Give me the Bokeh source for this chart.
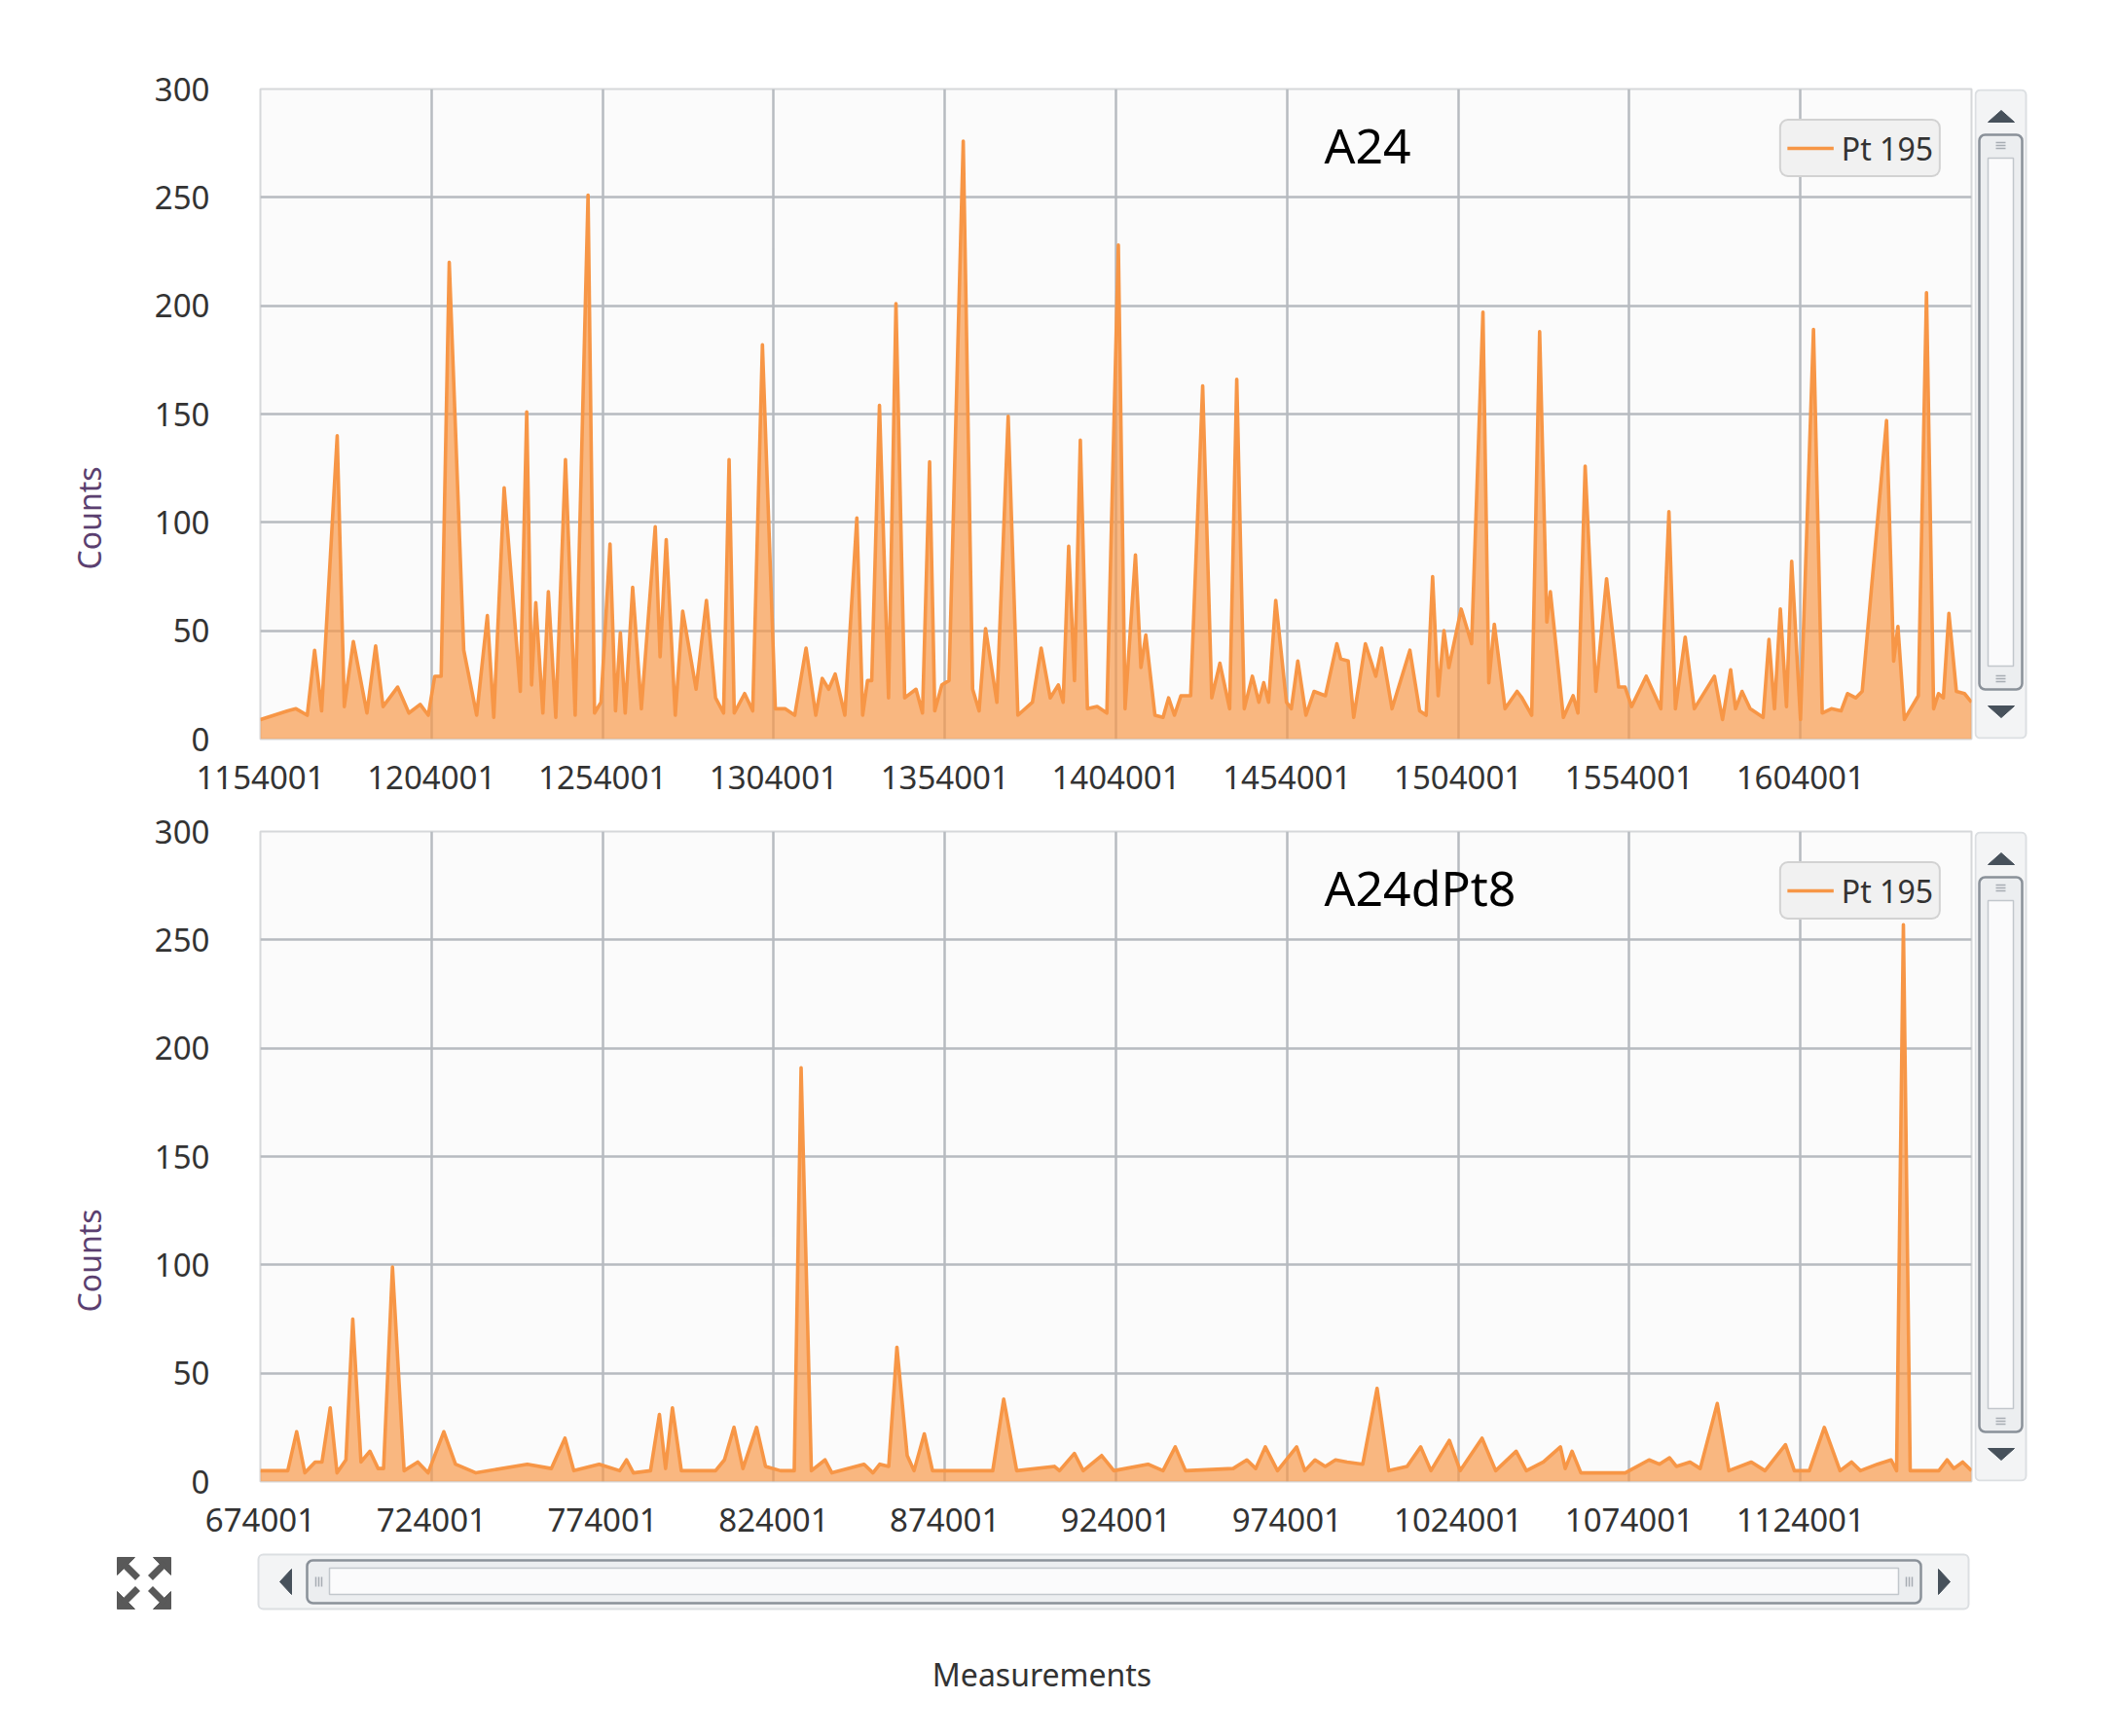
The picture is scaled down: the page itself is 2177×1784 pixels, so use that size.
import numpy as np
from bokeh.plotting import figure
from bokeh.layouts import column, row
from bokeh.models import Range1d, Label, Legend, LegendItem, FixedTicker, Quad
from bokeh.embed import file_html
from bokeh.resources import INLINE
from bokeh.core.properties import value

# ---------------- data ----------------
series_name = "Pt 195"
y_label = "Counts"
x_label = "Measurements"
titles = ["A24", "A24dPt8"]

top_x = [1154001, 1158000, 1162000, 1164400, 1167700, 1169850, 1171900, 1176450, 1178530, 1181170,
         1185140, 1187680, 1189850, 1194100, 1197400, 1200700, 1203060, 1204950, 1206830, 1209190,
         1213430, 1217200, 1220320, 1222200, 1225230, 1229950, 1231830, 1233250, 1234470, 1236550,
         1238150, 1240320, 1243150, 1245980, 1249750, 1251640, 1253530, 1256170, 1257770, 1259190,
         1260600, 1262780, 1265330, 1269380, 1270800, 1272590, 1275230, 1277400, 1281320, 1284340,
         1287000, 1289350, 1290960, 1292470, 1295500, 1297860, 1300700, 1304470, 1307300, 1310140,
         1313450, 1316290, 1318180, 1320070, 1321960, 1324790, 1328290, 1329990, 1331400, 1332640,
         1334900, 1337550, 1339720, 1342270, 1345580, 1347470, 1349550, 1351060, 1353140, 1355220,
         1359380, 1362120, 1364010, 1365900, 1369210, 1372510, 1375350, 1379600, 1382150, 1384800,
         1387160, 1388580, 1390190, 1391890, 1393590, 1395670, 1398510, 1401340, 1404700, 1406660,
         1409700, 1411300, 1412730, 1415390, 1417760, 1419380, 1421090, 1422980, 1425830, 1429340,
         1432000, 1434370, 1437220, 1439300, 1441490, 1443860, 1445760, 1447180, 1448600, 1450690,
         1453820, 1455250, 1457140, 1459520, 1461890, 1465210, 1468540, 1469680, 1471860, 1473470,
         1476890, 1479920, 1481630, 1484670, 1489890, 1492740, 1494640, 1496530, 1498150, 1499850,
         1501270, 1504880, 1507920, 1511240, 1512950, 1514560, 1517690, 1521210, 1522630, 1525480,
         1527800, 1529900, 1530940, 1534740, 1537580, 1539000, 1541100, 1544230, 1547360, 1550870,
         1552770, 1554670, 1558940, 1563210, 1565580, 1567480, 1570330, 1572990, 1578870, 1581240,
         1583610, 1585040, 1586930, 1589310, 1593100, 1594810, 1596420, 1598130, 1599930, 1601450,
         1604020, 1607820, 1610370, 1613030, 1615880, 1617780, 1620150, 1622050, 1629170, 1631250,
         1632490, 1634380, 1638460, 1640840, 1642920, 1644350, 1645770, 1647390, 1649570, 1651940,
         1654001]
top_y = [9, 11, 13, 14, 11, 41, 13, 140, 15, 45,
         12, 43, 15, 24, 12, 16, 11, 29, 29, 220,
         41, 11, 57, 10, 116, 22, 151, 25, 63, 12,
         68, 10, 129, 11, 251, 12, 17, 90, 13, 49,
         12, 70, 14, 98, 38, 92, 11, 59, 23, 64,
         19, 12, 129, 12, 21, 13, 182, 14, 14, 11,
         42, 11, 28, 23, 30, 11, 102, 11, 27, 27,
         154, 19, 201, 19, 23, 12, 128, 13, 25, 27,
         276, 23, 13, 51, 17, 149, 11, 17, 42, 19,
         25, 17, 89, 27, 138, 14, 15, 12, 228, 14,
         85, 33, 48, 11, 10, 19, 11, 20, 20, 163,
         19, 35, 14, 166, 14, 29, 17, 26, 17, 64,
         17, 14, 36, 11, 22, 20, 44, 37, 36, 10,
         44, 29, 42, 14, 41, 13, 11, 75, 20, 50,
         33, 60, 44, 197, 26, 53, 14, 22, 19, 11,
         188, 54, 68, 10, 20, 12, 126, 22, 74, 24,
         24, 15, 29, 14, 105, 14, 47, 14, 29, 9,
         32, 14, 22, 14, 10, 46, 14, 60, 15, 82,
         9, 189, 12, 14, 13, 21, 19, 22, 147, 36,
         52, 9, 20, 206, 14, 21, 19, 58, 22, 21,
         17]

bot_x = [674001, 682000, 684600, 687000, 690000, 692000, 694400, 696400, 699000, 701000,
         703400, 706000, 708400, 710000, 712600, 716000, 720000, 723000, 727600, 731000,
         737000, 752000, 759000, 763000, 765600, 773000, 779000, 781000, 783000, 788000,
         790600, 792400, 794400, 797000, 807000, 809600, 812400, 815000, 819000, 821600,
         826000, 830000, 832000, 835000, 839000, 841000, 850400, 853000, 855000, 857600,
         860000, 863000, 865000, 868000, 870400, 888000, 891200, 895000, 906000, 907500,
         911850, 914440, 919820, 923400, 933360, 937750, 941330, 944320, 958260, 962250,
         964840, 967630, 971210, 976790, 979180, 982170, 985160, 988150, 991530, 996120,
         1000300, 1003700, 1009060, 1013050, 1016040, 1021420, 1024600, 1030970, 1034960, 1040940,
         1043920, 1048900, 1053880, 1055280, 1057270, 1059860, 1072810, 1079780, 1082770, 1085760,
         1087750, 1091740, 1094720, 1099700, 1103090, 1109660, 1113650, 1119630, 1122220, 1126610,
         1130990, 1135570, 1138950, 1141540, 1146520, 1150500, 1152100, 1154090, 1156080, 1164450,
         1166840, 1168830, 1171420, 1174001]
bot_y = [5, 5, 23, 4, 9, 9, 34, 4, 10, 75,
         9, 14, 6, 6, 99, 5, 9, 4, 23, 8,
         4, 8, 6, 20, 5, 8, 5, 10, 4, 5,
         31, 6, 34, 5, 5, 10, 25, 6, 25, 7,
         5, 5, 191, 5, 10, 4, 8, 4, 8, 7,
         62, 12, 5, 22, 5, 5, 38, 5, 7, 5,
         13, 5, 12, 5, 8, 5, 16, 5, 6, 10,
         6, 16, 5, 16, 5, 10, 7, 10, 9, 8,
         43, 5, 7, 16, 5, 19, 5, 20, 5, 14,
         5, 9, 16, 6, 14, 4, 4, 10, 8, 11,
         7, 9, 6, 36, 5, 9, 5, 17, 5, 5,
         25, 5, 9, 5, 8, 10, 5, 257, 5, 5,
         10, 6, 9, 5]

top_ticks = [1154001, 1204001, 1254001, 1304001, 1354001, 1404001, 1454001, 1504001, 1554001, 1604001]
top_tick_labels = ["1154001", "1204001", "1254001", "1304001", "1354001",
                   "1404001", "1454001", "1504001", "1554001", "1604001"]
bot_ticks = [674001, 724001, 774001, 824001, 874001, 924001, 974001, 1024001, 1074001, 1124001]
bot_tick_labels = ["674001", "724001", "774001", "824001", "874001",
                   "924001", "974001", "1024001", "1074001", "1124001"]
y_ticks = [0, 50, 100, 150, 200, 250, 300]
x_span = 500000
y_max = 300

# ---------------- style ----------------
FONT = "Noto Sans"
ORANGE = "#f79646"
GRID = "#b7bbc0"
TICK_COLOR = "#333333"
FRAME_W = 1758
FRAME_H = 668
LABEL_W = 138
CHART_W = 1890
LEFT = 129
HAS_QUAD_RADIUS = "border_radius" in Quad.properties()
HAS_LEGEND_RADIUS = "border_radius" in Legend.properties()


def rounded(renderer, r):
    if HAS_QUAD_RADIUS:
        renderer.glyph.border_radius = r


def label_panel(y_range, min_top, min_bottom):
    lp = figure(width=LABEL_W, height=min_top + FRAME_H + min_bottom, x_range=Range1d(0, LABEL_W),
                y_range=y_range, output_backend="svg", toolbar_location=None,
                min_border_left=0, min_border_right=0, min_border_top=min_top,
                min_border_bottom=min_bottom, x_axis_type=None, y_axis_type=None)
    lp.outline_line_color = None
    lp.background_fill_color = "white"
    lp.border_fill_color = "white"
    lp.text(x=[91], y=[102], text=[y_label], angle=np.pi / 2, text_align="center",
            text_baseline="middle", text_font=value(FONT), text_font_size="32px",
            text_color="#5b3f70")
    return lp


def chart(xs, ys, ticks, tick_labels, title, min_top, min_bottom):
    x0 = ticks[0]
    h = min_top + FRAME_H + min_bottom
    p = figure(width=CHART_W, height=h, x_range=Range1d(x0, x0 + x_span), y_range=Range1d(0, y_max),
               output_backend="svg", toolbar_location=None,
               min_border_left=LEFT, min_border_right=CHART_W - LEFT - FRAME_W,
               min_border_top=min_top, min_border_bottom=min_bottom)
    p.background_fill_color = "#fbfbfb"
    p.border_fill_color = "white"
    p.outline_line_color = "#d6d8da"
    p.outline_line_width = 2

    p.xaxis.ticker = FixedTicker(ticks=ticks)
    p.xaxis.major_label_overrides = {t: l for t, l in zip(ticks, tick_labels)}
    p.yaxis.ticker = FixedTicker(ticks=y_ticks)
    for ax in (p.xaxis, p.yaxis):
        ax.axis_line_color = None
        ax.major_tick_line_color = None
        ax.minor_tick_line_color = None
        ax.major_label_text_font = FONT
        ax.major_label_text_font_size = "33px"
        ax.major_label_text_color = TICK_COLOR
    p.xaxis.major_label_standoff = 21
    p.yaxis.major_label_standoff = 46

    p.xgrid.ticker = FixedTicker(ticks=ticks)
    p.ygrid.ticker = FixedTicker(ticks=y_ticks)
    p.grid.grid_line_color = GRID
    p.grid.grid_line_width = 2.5

    p.varea(x=xs, y1=[0] * len(xs), y2=ys, fill_color=ORANGE, fill_alpha=0.68)
    ln = p.line(x=xs, y=ys, line_color=ORANGE, line_width=3.6, line_join="round")

    legend = Legend(items=[LegendItem(label=series_name, renderers=[ln])], location="top_right",
                    margin=31, padding=6, spacing=0, glyph_width=48, glyph_height=44,
                    label_height=44, label_standoff=8,
                    label_text_font=FONT, label_text_font_size="32px", label_text_color=TICK_COLOR,
                    background_fill_color="#f1f1f1", background_fill_alpha=1,
                    border_line_color="#b3b3b3", border_line_width=2)
    if HAS_LEGEND_RADIUS:
        legend.border_radius = 9
    p.add_layout(legend)

    units_per_px = x_span / FRAME_W
    p.add_layout(Label(x=x0 + 1093 * units_per_px, y=274, text=title, text_font=FONT,
                       text_font_size="50px", text_color="black", text_baseline="middle"))
    return p, h


def vscroll(min_top, min_bottom):
    h = min_top + FRAME_H + min_bottom
    s = figure(width=57, height=h, x_range=Range1d(0, 57), y_range=Range1d(FRAME_H, 0),
               output_backend="svg", toolbar_location=None,
               min_border_left=0, min_border_right=0, min_border_top=min_top,
               min_border_bottom=min_bottom, x_axis_type=None, y_axis_type=None)
    s.outline_line_color = None
    s.background_fill_color = "white"
    s.border_fill_color = "white"
    top, bottom = 1, FRAME_H - 1
    r = s.quad(left=[1], right=[53], top=[top], bottom=[bottom], fill_color="#f3f4f5",
               line_color="#dcdfe2", line_width=2)
    rounded(r, 5)
    s.patch(x=[14, 41, 27.5], y=[top + 33, top + 33, top + 21], color="#47515b")
    s.patch(x=[14, 41, 27.5], y=[bottom - 33, bottom - 33, bottom - 21], color="#47515b")
    t0, t1 = top + 46, bottom - 50
    r = s.quad(left=[5], right=[49], top=[t0], bottom=[t1], fill_color="#eceef0",
               line_color="#8a9199", line_width=2.5)
    rounded(r, 6)
    s.quad(left=[14], right=[40], top=[t0 + 24], bottom=[t1 - 24], fill_color="#fbfbfc",
           line_color="#c2c7cc", line_width=1.5)
    gy = [t0 + 8, t0 + 11, t0 + 14, t1 - 8, t1 - 11, t1 - 14]
    s.segment(x0=[22] * 6, x1=[32] * 6, y0=gy, y1=gy, line_color="#a7adb3", line_width=1.5)
    return s


TOP_T, TOP_B = 91, 70
BOT_T, BOT_B = 25, 70
top_fig, top_h = chart(top_x, top_y, top_ticks, top_tick_labels, titles[0], TOP_T, TOP_B)
bot_fig, bot_h = chart(bot_x, bot_y, bot_ticks, bot_tick_labels, titles[1], BOT_T, BOT_B)
top_lab = label_panel(top_fig.y_range, TOP_T, TOP_B)
bot_lab = label_panel(bot_fig.y_range, BOT_T, BOT_B)
top_scroll = vscroll(TOP_T, TOP_B)
bot_scroll = vscroll(BOT_T, BOT_B)

# bottom strip: horizontal scrollbar, expand icon, x label (local x = page x - 8)
BW, BH = 2085, 184
b = figure(width=BW, height=BH, x_range=Range1d(-8, BW - 8), y_range=Range1d(BH, 0),
           output_backend="svg", toolbar_location=None, min_border=0,
           x_axis_type=None, y_axis_type=None)
b.outline_line_color = None
b.background_fill_color = "white"
b.border_fill_color = "white"
r = b.quad(left=[257], right=[2014], top=[5], bottom=[61], fill_color="#f3f4f5",
           line_color="#dcdfe2", line_width=2)
rounded(r, 5)
b.patch(x=[279, 291, 291], y=[33, 20, 46], color="#47515b")
b.patch(x=[1995, 1983, 1983], y=[33, 20, 46], color="#47515b")
r = b.quad(left=[307], right=[1965], top=[11], bottom=[55], fill_color="#eceef0",
           line_color="#8a9199", line_width=2.5)
rounded(r, 6)
b.quad(left=[330], right=[1942], top=[19], bottom=[46], fill_color="#fbfbfc",
       line_color="#c2c7cc", line_width=1.5)
gx = [316, 319, 322, 1950, 1953, 1956]
b.segment(x0=gx, x1=gx, y0=[28] * 6, y1=[38] * 6, line_color="#a7adb3", line_width=1.5)
# expand icon
ICON = "#595959"
b.patch(x=[112, 130, 112], y=[8, 8, 26], color=ICON)
b.patch(x=[167, 149, 167], y=[8, 8, 26], color=ICON)
b.patch(x=[112, 130, 112], y=[61, 61, 43], color=ICON)
b.patch(x=[167, 149, 167], y=[61, 61, 43], color=ICON)
b.segment(x0=[118, 161, 118, 161], y0=[14, 14, 55, 55], x1=[133, 146, 133, 146], y1=[29, 29, 40, 40],
          line_color=ICON, line_width=7)
b.text(x=[1062], y=[128], text=[x_label], text_align="center", text_baseline="middle",
       text_font=value(FONT), text_font_size="32px", text_color="#333333")

layout = column(row(top_lab, top_fig, top_scroll), row(bot_lab, bot_fig, bot_scroll), b)

with open("out.html", "w") as f:
    f.write(file_html(layout, INLINE))
